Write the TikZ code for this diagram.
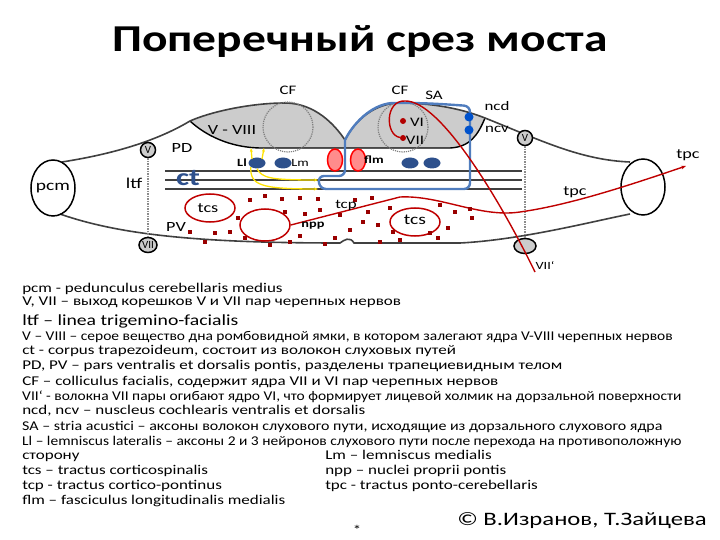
\documentclass[tikz,border=0pt]{standalone}
\usepackage{fontspec}
\setmainfont{Carlito}
\usetikzlibrary{arrows.meta,shapes.geometric}
\definecolor{bl}{RGB}{80,125,190}
\definecolor{dbl}{RGB}{45,80,140}
\begin{document}
\begin{tikzpicture}[x=1pt,y=-1pt,
 outl/.style={draw=black!75,line width=1.6pt},
 lbl/.style={font=\fontsize{13}{14}\selectfont,inner sep=0pt,xscale=1.3,transform shape},
 txt/.style={font=\fontsize{13.4}{14}\selectfont,anchor=west,inner sep=0pt,xscale=1.27,transform shape},
 ltxt/.style={txt,xscale=0.91},
 rdot/.style={fill=red!60!black,rectangle,inner sep=0pt,minimum size=3.5pt},
 nerve/.style={draw=black,line width=1.5pt,fill=black!20,inner sep=0pt},
 blueov/.style={fill=dbl,draw=none,ellipse},
 yarr/.style={draw=yellow!85!orange,line width=1.3pt,-{Stealth[length=4pt]}}]
\useasboundingbox (0,0) rectangle (720,540);
\node[font=\fontsize{38}{40}\selectfont\bfseries,xscale=1.25,transform shape] (title) at (360,42) {Поперечный срез моста};
% gray region
\fill[black!20] (190,121) .. controls (210,112) and (250,103) .. (285,103) .. controls (315,103) and (335,125) .. (345,140) .. controls (355,120) and (375,103) .. (400,103) .. controls (430,103) and (460,108) .. (485,118) .. controls (478,135) and (470,147) .. (450,148) -- (262,148) .. controls (230,148) and (205,135) .. (190,121);
\draw[line width=1.4pt] (190,121) .. controls (205,135) and (230,148) .. (262,148) -- (450,148) .. controls (470,147) and (478,135) .. (485,118);
% contours
\draw[outl] (62,162) .. controls (100,156) and (150,145) .. (190,121) .. controls (210,112) and (250,103) .. (285,103) .. controls (315,103) and (335,125) .. (345,140) .. controls (355,120) and (375,103) .. (400,103) .. controls (430,103) and (460,108) .. (485,118) .. controls (540,140) and (580,160) .. (630,162);
\draw[outl] (60,214) .. controls (120,235) and (200,243) .. (340,243) .. controls (344,240) and (350,236) .. (354,243) -- (460,243) .. controls (520,240) and (590,222) .. (630,214);
\node[draw,line width=1.5pt,ellipse,minimum width=44pt,minimum height=56pt] (pcm) at (53,188) {};
\node[lbl,font=\fontsize{15}{16}\selectfont] at (53,188) {pcm};
\node[draw,line width=1.5pt,ellipse,minimum width=44pt,minimum height=56pt] (rpc) at (643,187) {};
% dotted circles
\draw[black!50,densely dotted,line width=1.2pt] (288,127) circle (25);
\draw[black!50,densely dotted,line width=1.2pt] (403,127) circle (25);
% ct lines
\foreach \y in {171,180,189} \draw[black!75,line width=1.5pt] (165,\y) -- (522,\y);
% nerves
\node[nerve,circle,minimum size=15pt] (V1) at (148,150) {\fontsize{11}{12}\selectfont V};
\node[nerve,ellipse,minimum width=18pt,minimum height=15pt] (VII1) at (148,245) {\fontsize{11}{12}\selectfont VII};
\node[nerve,circle,minimum size=15pt] (V2) at (525,138) {\fontsize{11}{12}\selectfont V};
\node[nerve,ellipse,minimum width=22pt,minimum height=15pt] (VII2) at (525,246) {};
\draw[black!45,densely dotted,line width=1.5pt] (V1) -- (VII1);
\draw[black!45,densely dotted,line width=1.5pt] (V2) -- (VII2);
% blue loop
\draw[bl,line width=2.4pt,rounded corners=6pt] (345,140) .. controls (355,120) and (375,103) .. (400,103) .. controls (430,103) and (455,105) .. (470,106) -- (470,189) -- (320,189) -- (318,176) -- (345,176) -- (345,140);
\node[blueov,minimum width=17pt,minimum height=11pt] (Ll) at (257,163) {};
\node[blueov,minimum width=17pt,minimum height=11pt] (Lm) at (283,163) {};
\node[blueov,minimum width=17pt,minimum height=11pt] (b3) at (410,163) {};
\node[blueov,minimum width=17pt,minimum height=11pt] (b4) at (432,163) {};
\node[fill=blue!60!cyan!80!black,circle,inner sep=0pt,minimum size=9pt] (ncd) at (469,117) {};
\node[fill=blue!60!cyan!80!black,circle,inner sep=0pt,minimum size=9pt] (ncv) at (469,130) {};
% yellow arrows
\coordinate (y1) at (318,180); \coordinate (y2) at (318,189);
\draw[yarr] (Ll.south) .. controls (262,178) and (270,180) .. (y1);
\draw[yarr] (Ll.south west) .. controls (250,185) and (260,189) .. (y2);
\coordinate (u1) at (251,148); \coordinate (u2) at (264,148);
\draw[yarr] (252,159) -- (u1);
\draw[yarr] (262,159) -- (u2);
% flm
\node[draw=red,line width=1.5pt,fill=red!45,ellipse,minimum width=15pt,minimum height=22pt] (f1) at (335,160) {};
\node[draw=red,line width=1.5pt,fill=red!45,ellipse,minimum width=15pt,minimum height=22pt] (f2) at (358,160) {};
% red ellipses
\tikzset{rell/.style={draw=red!75!black,line width=1.5pt,ellipse}}
\node[rell,minimum width=50pt,minimum height=28pt] (tcs1) at (210,208) {};
\node[rell,minimum width=50pt,minimum height=32pt] (npp1) at (265,225) {};
\node[rell,minimum width=50pt,minimum height=28pt] (tcs2) at (415,222) {};
% VI VII dots and curve
\node[fill=red!70!black,circle,inner sep=0pt,minimum size=6pt] (VI) at (403,121) {};
\node[fill=red!70!black,circle,inner sep=0pt,minimum size=6pt] (VII) at (403,138) {};
\coordinate (e7) at (535,272);
\draw[red!75!black,line width=1.4pt] (VII) .. controls (385,135) and (385,100) .. (405,101) .. controls (440,100) and (500,200) .. (e7);
% tpc curve
\coordinate (tpcend) at (686,166);
\draw[red!75!black,line width=1.4pt,-{Stealth[length=5pt]}] (npp1.east) -- (400,197) .. controls (440,195) and (480,218) .. (520,212) .. controls (570,205) and (630,185) .. (tpcend);
% red dots
\foreach \p in {(250,200),(265,196),(282,199),(300,198),(318,199),(285,212),(305,214),(320,210),(340,215),(355,200),(368,212),(378,225),(390,208),(393,232),(350,230),(335,238),(300,236),(290,242),(245,238),(230,232),(215,233),(205,242),(190,232),(238,218),(372,198),(440,205),(448,228),(455,212),(470,209),(472,218),(438,238),(430,233),(400,240),(380,242),(363,222),(325,244),(270,245)}
  \node[rdot] at \p {};
% labels
\node[lbl] at (288,90) {CF};
\node[lbl] at (400,90) {CF};
\node[lbl] at (434,95) {SA};
\node[lbl] at (497,106) {ncd};
\node[lbl] at (497,129) {ncv};
\node[lbl,font=\fontsize{14}{15}\selectfont] at (232,130) {V - VIII};
\node[lbl,font=\fontsize{14}{15}\selectfont] at (182,148) {PD};
\node[lbl,font=\fontsize{15}{16}\selectfont] at (134,183) {ltf};
\node[lbl,font=\fontsize{24}{24}\selectfont\bfseries,text=dbl] at (188,178) {ct};
\node[lbl,font=\fontsize{14}{15}\selectfont] at (208,208) {tcs};
\node[lbl,font=\fontsize{14}{15}\selectfont] at (176,227) {PV};
\node[lbl] at (346,205) {tcp};
\node[lbl,font=\fontsize{11}{12}\selectfont\bfseries] at (313,226) {npp};
\node[lbl,font=\fontsize{15}{16}\selectfont] at (415,220) {tcs};
\node[lbl,font=\fontsize{14}{15}\selectfont] at (575,192) {tpc};
\node[lbl,font=\fontsize{14}{15}\selectfont] at (688,155) {tpc};
\node[lbl,font=\fontsize{11}{12}\selectfont] at (545,266) {VII`};
\node[lbl,font=\fontsize{11}{12}\selectfont\bfseries] at (374,160) {flm};
\node[lbl,font=\fontsize{11}{12}\selectfont\bfseries] at (242,163) {Ll};
\node[lbl,font=\fontsize{11}{12}\selectfont] at (300,163) {Lm};
\node[lbl] at (417,122) {VI};
\node[lbl] at (415,140) {VII};
% text block
\node[txt] at (22,289) {pcm - pedunculus  cerebellaris medius};
\node[txt] at (22,302) {V, VII – выход корешков V и VII пар черепных нервов};
\node[txt,font=\fontsize{15.5}{16}\selectfont] at (22,321) {ltf – linea  trigemino-facialis};
\node[ltxt] at (22,337) {V – VIII – серое вещество дна ромбовидной  ямки, в котором залегают ядра V-VIII черепных  нервов};
\node[txt] at (22,351) {ct  - corpus trapezoideum, состоит из волокон слуховых путей};
\node[txt] at (22,366) {PD, PV – pars ventralis et dorsalis pontis, разделены трапециевидным телом};
\node[txt] at (22,382) {CF – colliculus facialis, содержит ядра VII и VI  пар черепных нервов};
\node[ltxt] at (22,397) {VII` - волокна VII пары огибают ядро VI, что формирует лицевой холмик на дорзальной поверхности};
\node[txt] at (22,411) {ncd, ncv – nuscleus cochlearis ventralis et dorsalis};
\node[txt,xscale=0.94] at (22,427) {SA – stria acustici – аксоны волокон слухового пути, исходящие из дорзального слухового ядра};
\node[ltxt] at (22,442) {Ll – lemniscus  lateralis – аксоны 2 и 3 нейронов слухового пути после перехода на противоположную};
\node[txt] at (22,457) {сторону};
\node[txt] at (325,455) {Lm – lemniscus medialis};
\node[txt] at (22,471) {tcs – tractus corticospinalis};
\node[txt] at (325,471) {npp – nuclei proprii pontis};
\node[txt] at (22,486) {tcp  - tractus cortico-pontinus};
\node[txt] at (325,486) {tpc -  tractus  ponto-cerebellaris};
\node[txt] at (22,501) {flm – fasciculus longitudinalis medialis};
\node[lbl,font=\fontsize{19}{20}\selectfont] at (582,521) {© В.Изранов,  Т.Зайцева};
\node[lbl] at (357,530) {*};
\end{tikzpicture}
\end{document}
